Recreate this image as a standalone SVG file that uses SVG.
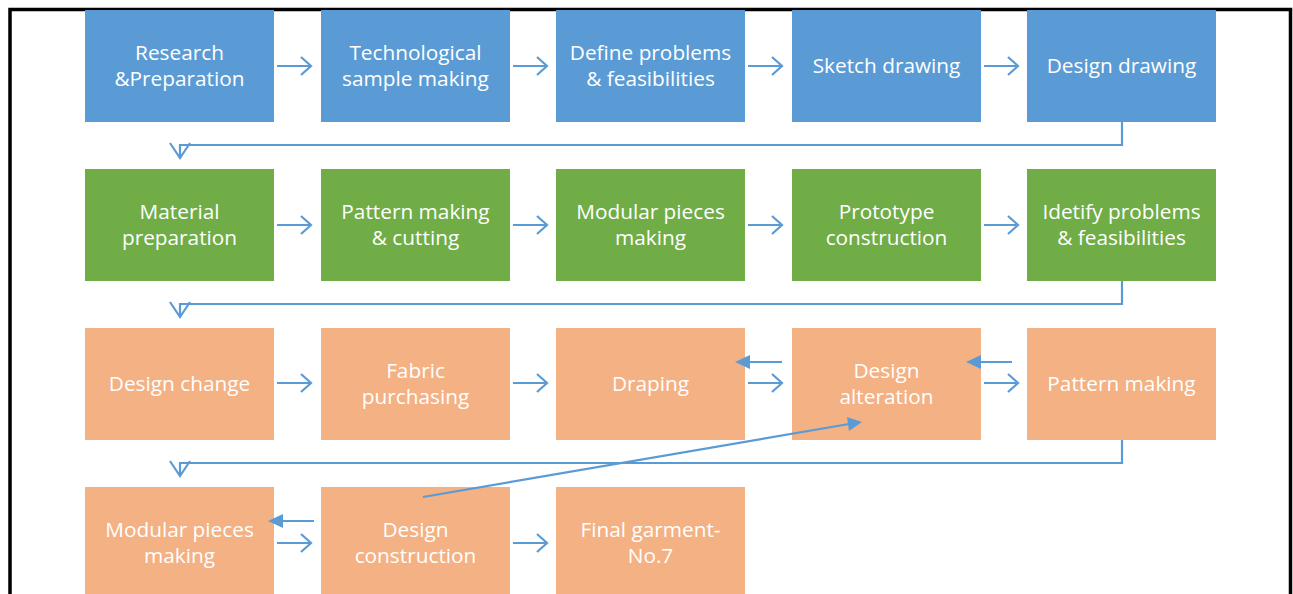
<svg xmlns="http://www.w3.org/2000/svg" width="1293" height="594" viewBox="0 0 1293 594">
  <defs>
    <style>
      .blue { fill: #5B9BD5; }
      .green { fill: #70AD47; }
      .orange { fill: #F4B183; }
      .lbl { font-family: "Open Sans", "Liberation Sans", sans-serif; font-size: 20.8px; fill: #FFFFFF; text-anchor: middle; }
      .conn { fill: none; stroke: #5B9BD5; stroke-width: 2.2; }
      .open { fill: none; stroke: #5B9BD5; stroke-width: 2.2; stroke-linejoin: miter; }
      .solid { fill: #5B9BD5; stroke: none; }
    </style>
  </defs>

  <rect x="0" y="0" width="1293" height="594" fill="#FFFFFF"/>
  <!-- page frame -->
  <path d="M10,600 V9.5 H1290.5 V600" fill="none" stroke="#000000" stroke-width="3.5"/>

  <!-- row 1 -->
  <g id="research">
    <rect class="blue" x="85" y="10" width="189" height="112"/>
    <text class="lbl" x="179.5" y="60">Research<tspan x="179.5" dy="25.5">&amp;Preparation</tspan></text>
  </g>
  <g id="tech-sample">
    <rect class="blue" x="321" y="10" width="189" height="112"/>
    <text class="lbl" x="415.5" y="60">Technological<tspan x="415.5" dy="25.5">sample making</tspan></text>
  </g>
  <g id="define-problems">
    <rect class="blue" x="556" y="10" width="189" height="112"/>
    <text class="lbl" x="650.5" y="60">Define problems<tspan x="650.5" dy="25.5">&amp; feasibilities</tspan></text>
  </g>
  <g id="sketch">
    <rect class="blue" x="792" y="10" width="189" height="112"/>
    <text class="lbl" x="886.5" y="73">Sketch drawing</text>
  </g>
  <g id="design-drawing">
    <rect class="blue" x="1027" y="10" width="189" height="112"/>
    <text class="lbl" x="1121.5" y="73">Design drawing</text>
  </g>

  <!-- row 2 -->
  <g id="material">
    <rect class="green" x="85" y="169" width="189" height="112"/>
    <text class="lbl" x="179.5" y="219">Material<tspan x="179.5" dy="25.5">preparation</tspan></text>
  </g>
  <g id="pattern-cutting">
    <rect class="green" x="321" y="169" width="189" height="112"/>
    <text class="lbl" x="415.5" y="219">Pattern making<tspan x="415.5" dy="25.5">&amp; cutting</tspan></text>
  </g>
  <g id="modular-1">
    <rect class="green" x="556" y="169" width="189" height="112"/>
    <text class="lbl" x="650.5" y="219">Modular pieces<tspan x="650.5" dy="25.5">making</tspan></text>
  </g>
  <g id="prototype">
    <rect class="green" x="792" y="169" width="189" height="112"/>
    <text class="lbl" x="886.5" y="219">Prototype<tspan x="886.5" dy="25.5">construction</tspan></text>
  </g>
  <g id="identify">
    <rect class="green" x="1027" y="169" width="189" height="112"/>
    <text class="lbl" x="1121.5" y="219">Idetify problems<tspan x="1121.5" dy="25.5">&amp; feasibilities</tspan></text>
  </g>

  <!-- row 3 -->
  <g id="design-change">
    <rect class="orange" x="85" y="328" width="189" height="112"/>
    <text class="lbl" x="179.5" y="391">Design change</text>
  </g>
  <g id="fabric">
    <rect class="orange" x="321" y="328" width="189" height="112"/>
    <text class="lbl" x="415.5" y="378">Fabric<tspan x="415.5" dy="25.5">purchasing</tspan></text>
  </g>
  <g id="draping">
    <rect class="orange" x="556" y="328" width="189" height="112"/>
    <text class="lbl" x="650.5" y="391">Draping</text>
  </g>
  <g id="design-alteration">
    <rect class="orange" x="792" y="328" width="189" height="112"/>
    <text class="lbl" x="886.5" y="378">Design<tspan x="886.5" dy="25.5">alteration</tspan></text>
  </g>
  <g id="pattern-making">
    <rect class="orange" x="1027" y="328" width="189" height="112"/>
    <text class="lbl" x="1121.5" y="391">Pattern making</text>
  </g>

  <!-- row 4 -->
  <g id="modular-2">
    <rect class="orange" x="85" y="487" width="189" height="112"/>
    <text class="lbl" x="179.5" y="537">Modular pieces<tspan x="179.5" dy="25.5">making</tspan></text>
  </g>
  <g id="design-construction">
    <rect class="orange" x="321" y="487" width="189" height="112"/>
    <text class="lbl" x="415.5" y="537">Design<tspan x="415.5" dy="25.5">construction</tspan></text>
  </g>
  <g id="final-garment">
    <rect class="orange" x="556" y="487" width="189" height="112"/>
    <text class="lbl" x="650.5" y="537">Final garment-<tspan x="650.5" dy="25.5">No.7</tspan></text>
  </g>

  <g id="connectors">
    <!-- forward arrows with open heads -->
    <g class="open">
      <path d="M277,66 H311 M301,57 L311,66 L301,75"/>
      <path d="M513,66 H547 M537,57 L547,66 L537,75"/>
      <path d="M748,66 H782 M772,57 L782,66 L772,75"/>
      <path d="M984,66 H1018 M1008,57 L1018,66 L1008,75"/>

      <path d="M277,225 H311 M301,216 L311,225 L301,234"/>
      <path d="M513,225 H547 M537,216 L547,225 L537,234"/>
      <path d="M748,225 H782 M772,216 L782,225 L772,234"/>
      <path d="M984,225 H1018 M1008,216 L1018,225 L1008,234"/>

      <path d="M277,383 H311 M301,374 L311,383 L301,392"/>
      <path d="M513,383 H547 M537,374 L547,383 L537,392"/>
      <path d="M748,383 H782 M772,374 L782,383 L772,392"/>
      <path d="M984,383 H1018 M1008,374 L1018,383 L1008,392"/>

      <path d="M277,543 H311 M301,534 L311,543 L301,552"/>
      <path d="M513,543 H547 M537,534 L547,543 L537,552"/>

      <!-- row wrap-around elbows -->
      <path d="M1122,122 V145 H180 V157 M170,143 L180,158 L190,143"/>
      <path d="M1122,281 V304 H180 V316 M170,302 L180,317 L190,302"/>
      <path d="M1122,440 V463 H180 V475 M170,461 L180,476 L190,461"/>
    </g>

    <!-- return arrows with filled heads -->
    <path class="conn" d="M782,362 H748"/>
    <path class="solid" d="M735,362 L750,355 L750,369 Z"/>
    <path class="conn" d="M1012,362 H978"/>
    <path class="solid" d="M966,362 L981,355 L981,369 Z"/>
    <path class="conn" d="M314,521 H281"/>
    <path class="solid" d="M268,521 L283,514 L283,528 Z"/>

    <!-- diagonal from design construction back to design alteration -->
    <path class="conn" d="M423,497 L849,424"/>
    <path class="solid" d="M862,422 L847,417 L849,431 Z"/>
  </g>
</svg>
